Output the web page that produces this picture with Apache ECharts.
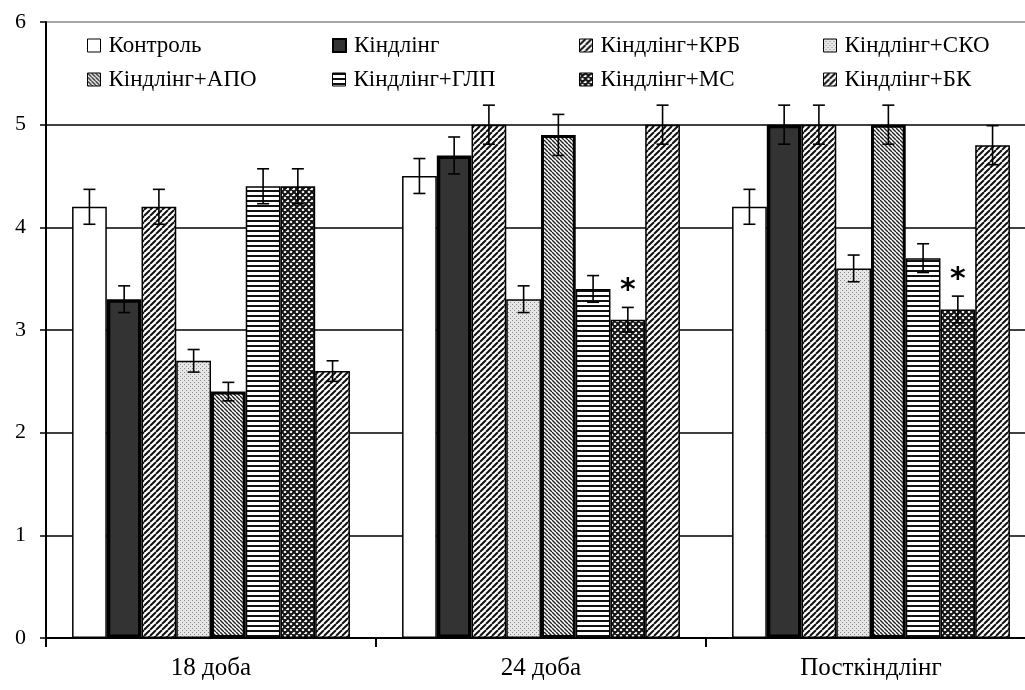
<!DOCTYPE html>
<html><head><meta charset="utf-8">
<script src="https://cdn.jsdelivr.net/npm/echarts@6/dist/echarts.min.js"></script>
<style>html,body{margin:0;padding:0;background:#fff}#c{width:1025px;height:690px}</style>
</head><body><div id="c"></div>
<script>
const categories = ['18 доба', '24 доба', 'Посткіндлінг'];
const seriesNames = ['Контроль', 'Кіндлінг', 'Кіндлінг+КРБ', 'Кіндлінг+СКО', 'Кіндлінг+АПО', 'Кіндлінг+ГЛП', 'Кіндлінг+МС', 'Кіндлінг+БК'];
const control = [4.2, 4.5, 4.2];
const kindling = [3.3, 4.7, 5.0];
const krb = [4.2, 5.0, 5.0];
const sko = [2.7, 3.3, 3.6];
const apo = [2.4, 4.9, 5.0];
const glp = [4.4, 3.4, 3.7];
const ms = [4.4, 3.1, 3.2];
const bk = [2.6, 5.0, 4.8];
const controlErr = [0.17, 0.17, 0.17];
const kindlingErr = [0.13, 0.18, 0.19];
const krbErr = [0.17, 0.19, 0.19];
const skoErr = [0.11, 0.13, 0.13];
const apoErr = [0.09, 0.2, 0.19];
const glpErr = [0.17, 0.13, 0.14];
const msErr = [0.17, 0.12, 0.13];
const bkErr = [0.1, 0.19, 0.19];
const msStar = [0, 1, 1];
const yTicks = [0, 1, 2, 3, 4, 5, 6];

const values = [control, kindling, krb, sko, apo, glp, ms, bk];
const errors = [controlErr, kindlingErr, krbErr, skoErr, apoErr, glpErr, msErr, bkErr];
const stars = [null, null, null, null, null, null, msStar, null];

function tile(size, draw) {
  const c = document.createElement('canvas');
  c.width = size; c.height = size;
  const ctx = c.getContext('2d');
  ctx.fillStyle = '#fff'; ctx.fillRect(0, 0, size, size);
  draw(ctx, size);
  return { image: c, repeat: 'repeat' };
}
function diag(p, lw, fg, back) {
  return tile(p, (ctx, s) => {
    ctx.strokeStyle = fg; ctx.lineWidth = lw;
    ctx.beginPath();
    for (const k of [-s, 0, s]) {
      if (back) { ctx.moveTo(k, 0); ctx.lineTo(k + s, s); }
      else { ctx.moveTo(k, s); ctx.lineTo(k + s, 0); }
    }
    ctx.stroke();
  });
}
const fills = [
  '#ffffff',
  '#333333',
  diag(6, 2.0, '#111', false),
  tile(4, (ctx) => { ctx.fillStyle = '#e6e6e6'; ctx.fillRect(0,0,4,4); ctx.fillStyle = '#8a8a8a'; ctx.fillRect(0,0,1,1); ctx.fillRect(2,2,1,1); }),
  diag(4, 1.4, '#222', true),
  tile(5, (ctx) => { ctx.fillStyle = '#111'; ctx.fillRect(0, 0, 5, 2); }),
  tile(6, (ctx, s) => { ctx.strokeStyle = '#111'; ctx.lineWidth = 2;
    ctx.beginPath();
    for (const k of [-s, 0, s]) { ctx.moveTo(k, s); ctx.lineTo(k + s, 0); ctx.moveTo(k, 0); ctx.lineTo(k + s, s); }
    ctx.stroke(); }),
  diag(6, 2.0, '#111', false)
];
const borders = [1.5, 3.5, 1.5, 1.5, 3, 1.5, 1.5, 1.5];
const GAP = 0.158;

const series = [];
seriesNames.forEach((name, i) => {
  series.push({
    name: name, type: 'bar', data: values[i],
    barGap: '0%', barCategoryGap: (GAP * 100) + '%',
    itemStyle: { color: fills[i], borderColor: '#000', borderWidth: borders[i] },
    emphasis: { disabled: true }, z: 2
  });
});
seriesNames.forEach((name, i) => {
  series.push({
    name: 'err' + i, type: 'custom', z: 5, silent: true,
    data: categories.map((c, k) => [k, values[i][k], errors[i][k], stars[i] ? stars[i][k] : 0]),
    renderItem: function (params, api) {
      const ci = api.value(0), v = api.value(1), e = api.value(2), st = api.value(3);
      const catW = api.size([1, 0])[0];
      const bw = catW * (1 - GAP) / 8;
      const x = api.coord([ci, 0])[0] + (i - 3.5) * bw;
      const yt = api.coord([ci, v + e])[1], yb = api.coord([ci, v - e])[1];
      const st1 = { stroke: '#000', lineWidth: 1.6 };
      const ch = [
        { type: 'line', shape: { x1: x, y1: yt, x2: x, y2: yb }, style: st1 },
        { type: 'line', shape: { x1: x - 6, y1: yt, x2: x + 6, y2: yt }, style: st1 },
        { type: 'line', shape: { x1: x - 6, y1: yb, x2: x + 6, y2: yb }, style: st1 }
      ];
      if (st) ch.push({ type: 'text', style: { text: '*', x: x, y: yt - 1, align: 'center', verticalAlign: 'bottom', fill: '#000', font: 'bold 30px "DejaVu Sans"' } });
      return { type: 'group', children: ch };
    }
  });
});

const legendPos = [[87, 34], [332, 34], [579, 34], [823, 34], [87, 68], [332, 68], [579, 68], [823, 68]];
const legends = seriesNames.map((n, i) => ({
  data: [n], left: legendPos[i][0], top: legendPos[i][1], padding: 0,
  itemWidth: 13, itemHeight: 13, icon: 'rect', selectedMode: false,
  itemStyle: { borderWidth: i === 1 ? 2 : 1 },
  textStyle: { fontFamily: 'Liberation Serif', fontSize: 23, color: '#000', padding: [0, 0, 0, 3] }
}));

const chart = echarts.init(document.getElementById('c'), null, { renderer: 'canvas' });
chart.setOption({
  animation: false,
  backgroundColor: '#fff',
  legend: legends,
  grid: { left: 46, top: 22, bottom: 52, width: 990, containLabel: false, outerBoundsMode: 'none' },
  xAxis: {
    type: 'category', data: categories,
    axisLine: { lineStyle: { color: '#000', width: 2 } },
    axisTick: { show: true, length: 9, lineStyle: { color: '#000', width: 2 } },
    axisLabel: { fontFamily: 'Liberation Serif', fontSize: 25, color: '#000', margin: 18 }
  },
  yAxis: {
    type: 'value', min: yTicks[0], max: yTicks[yTicks.length - 1], interval: 1,
    axisLine: { show: true, lineStyle: { color: '#000', width: 2 } },
    axisTick: { show: true, length: 6, lineStyle: { color: '#000', width: 1.5 } },
    axisLabel: { fontFamily: 'Liberation Serif', fontSize: 22, color: '#000', margin: 20 },
    splitLine: { lineStyle: { color: ['#000', '#000', '#000', '#000', '#000', '#000', '#888'], width: 1.5 } }
  },
  series: series
});
</script></body></html>
